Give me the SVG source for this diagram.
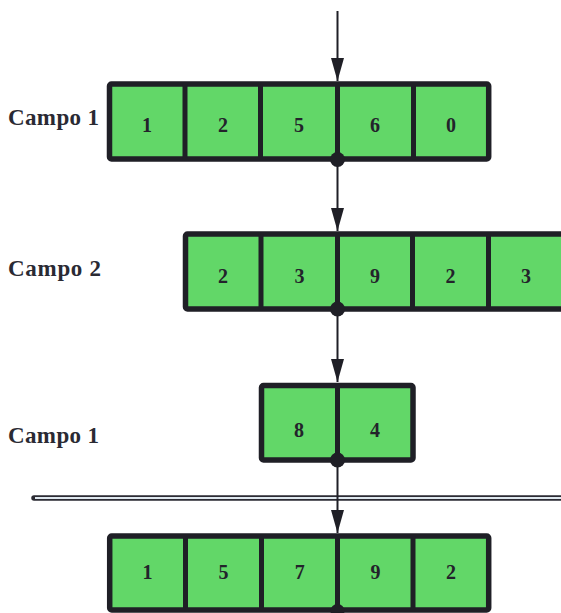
<svg xmlns="http://www.w3.org/2000/svg" width="561" height="613" viewBox="0 0 561 613">
<style>
.box{fill:#62d768;stroke:#1f1f26;stroke-width:5.5;stroke-linejoin:round}
.div{stroke:#1f1f26;stroke-width:5}
.num{font-family:"Liberation Serif",serif;font-weight:bold;font-size:20px;fill:#23232b;text-anchor:middle}
.lbl{font-family:"Liberation Serif",serif;font-weight:bold;font-size:23px;fill:#2a2a33}
.con{stroke:#1f1f26;stroke-width:2;fill:none}
.dot{fill:#1f1f26}
</style>
<defs>
<marker id="arr" markerUnits="userSpaceOnUse" markerWidth="24" markerHeight="14" refX="23" refY="7" orient="auto" viewBox="0 0 24 14">
<path d="M0,0.5 L23,7 L0,13.5 Z" fill="#1f1f26"/>
</marker>
</defs>
<text class="lbl" x="8" y="125" textLength="91">Campo 1</text>
<text class="lbl" x="8" y="276" textLength="93">Campo 2</text>
<text class="lbl" x="8" y="443" textLength="91">Campo 1</text>
<g id="sep">
<line x1="34" y1="498" x2="565" y2="498" stroke="#2b2b33" stroke-width="5.5" stroke-linecap="round"/>
<line x1="35" y1="498" x2="565" y2="498" stroke="#dfe8ef" stroke-width="1.8"/>
</g>
<g id="row1">
<rect class="box" x="109.5" y="84" width="379.2" height="75" rx="2"/>
<line class="div" x1="185" y1="84" x2="185" y2="159"/>
<line class="div" x1="260.5" y1="84" x2="260.5" y2="159"/>
<line class="div" x1="337.5" y1="84" x2="337.5" y2="159"/>
<line class="div" x1="413.5" y1="84" x2="413.5" y2="159"/>
<text class="num" x="147" y="132">1</text>
<text class="num" x="223" y="132">2</text>
<text class="num" x="299" y="132">5</text>
<text class="num" x="375" y="132">6</text>
<text class="num" x="451" y="132">0</text>
</g>
<g id="row2">
<rect class="box" x="185.5" y="234" width="380" height="75" rx="2"/>
<line class="div" x1="261" y1="234" x2="261" y2="309"/>
<line class="div" x1="337.5" y1="234" x2="337.5" y2="309"/>
<line class="div" x1="412.5" y1="234" x2="412.5" y2="309"/>
<line class="div" x1="488.5" y1="234" x2="488.5" y2="309"/>
<text class="num" x="223" y="283">2</text>
<text class="num" x="299.5" y="283">3</text>
<text class="num" x="375" y="283">9</text>
<text class="num" x="450.5" y="283">2</text>
<text class="num" x="526" y="283">3</text>
</g>
<g id="row3">
<rect class="box" x="261.5" y="385.5" width="151.5" height="74.5" rx="2"/>
<line class="div" x1="337.5" y1="385.5" x2="337.5" y2="460"/>
<text class="num" x="299" y="437">8</text>
<text class="num" x="375" y="437">4</text>
</g>
<g id="row4">
<rect class="box" x="109.7" y="536" width="379" height="74" rx="2"/>
<line class="div" x1="185.5" y1="536" x2="185.5" y2="610"/>
<line class="div" x1="261.5" y1="536" x2="261.5" y2="610"/>
<line class="div" x1="337.5" y1="536" x2="337.5" y2="610"/>
<line class="div" x1="413" y1="536" x2="413" y2="610"/>
<text class="num" x="147.6" y="579">1</text>
<text class="num" x="223.5" y="579">5</text>
<text class="num" x="299.7" y="579">7</text>
<text class="num" x="375.5" y="579">9</text>
<text class="num" x="451" y="579">2</text>
</g>
<g id="connectors">
<line class="con" x1="337.5" y1="11" x2="337.5" y2="81" marker-end="url(#arr)"/>
<line class="con" x1="337.5" y1="160" x2="337.5" y2="231" marker-end="url(#arr)"/>
<line class="con" x1="337.5" y1="309" x2="337.5" y2="382" marker-end="url(#arr)"/>
<line class="con" x1="337.5" y1="460" x2="337.5" y2="533" marker-end="url(#arr)"/>
<circle class="dot" cx="337.5" cy="159.5" r="7.5"/>
<circle class="dot" cx="337.5" cy="309" r="7.5"/>
<circle class="dot" cx="337.5" cy="460" r="7.5"/>
<circle class="dot" cx="337.5" cy="611" r="7"/>
</g>
</svg>
